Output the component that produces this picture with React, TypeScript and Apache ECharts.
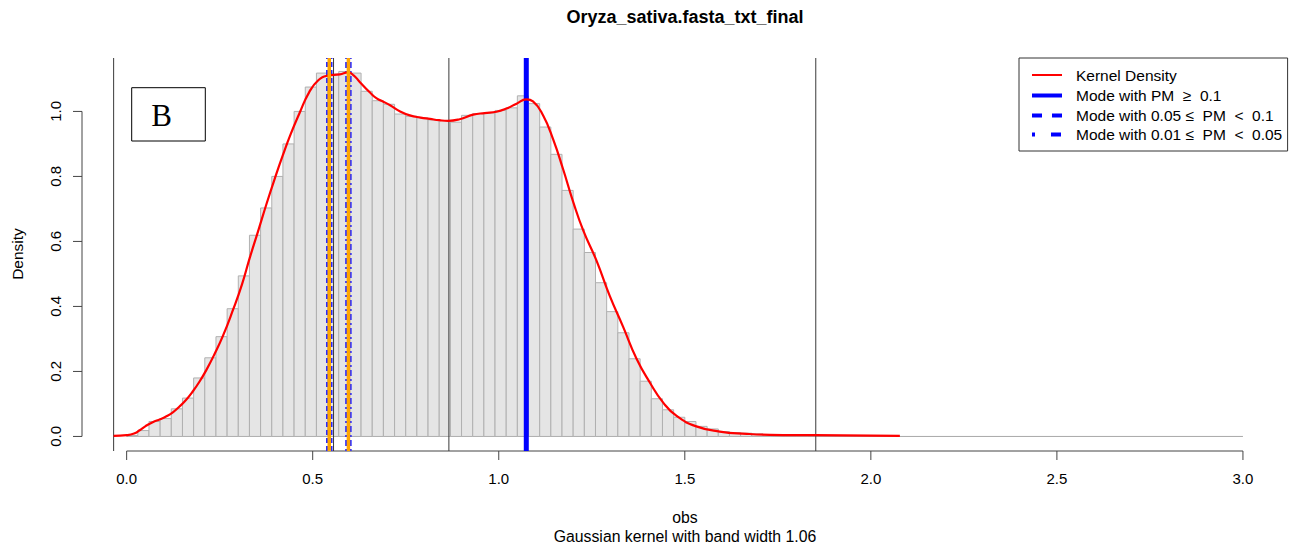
import React, { useEffect, useRef } from "react";
import * as echarts from "echarts";

// ---- data ----
const binWidth = 0.03;
const binLefts = [
  0.0, 0.03, 0.06, 0.09, 0.12, 0.15, 0.18, 0.21, 0.24, 0.27, 0.3, 0.33, 0.36, 0.39, 0.42, 0.45, 0.48, 0.51,
  0.54, 0.57, 0.6, 0.63, 0.66, 0.69, 0.72, 0.75, 0.78, 0.81, 0.84, 0.87, 0.9, 0.93, 0.96, 0.99, 1.02, 1.05,
  1.08, 1.11, 1.14, 1.17, 1.2, 1.23, 1.26, 1.29, 1.32, 1.35, 1.38, 1.41, 1.44, 1.47, 1.5, 1.53, 1.56, 1.59,
  1.62, 1.65, 1.68, 1.71, 1.74, 1.77, 1.8,
];
const binDensity = [
  0.003, 0.018, 0.046, 0.055, 0.085, 0.118, 0.18, 0.242, 0.307, 0.393, 0.494, 0.619, 0.703, 0.8, 0.9, 1.0,
  1.075, 1.118, 1.115, 1.123, 1.118, 1.062, 1.033, 1.022, 0.992, 0.985, 0.98, 0.974, 0.972, 0.967, 0.988,
  0.993, 0.995, 1.003, 1.011, 1.048, 1.024, 0.952, 0.868, 0.757, 0.638, 0.566, 0.473, 0.384, 0.319, 0.239,
  0.17, 0.116, 0.082, 0.059, 0.046, 0.031, 0.023, 0.015, 0.012, 0.01, 0.008, 0.006, 0.004, 0.003, 0.002,
];
const kdeX = [
  -0.035, 0.0, 0.02, 0.035, 0.05, 0.07, 0.09, 0.107, 0.125, 0.142, 0.16, 0.178, 0.196, 0.214, 0.236, 0.259,
  0.286, 0.31, 0.331, 0.355, 0.376, 0.4, 0.42, 0.44, 0.465, 0.49, 0.515, 0.54, 0.573, 0.595, 0.61, 0.627,
  0.654, 0.672, 0.69, 0.708, 0.735, 0.761, 0.79, 0.815, 0.84, 0.864, 0.895, 0.931, 0.962, 0.994, 1.021,
  1.048, 1.074, 1.092, 1.119, 1.146, 1.173, 1.2, 1.227, 1.263, 1.298, 1.334, 1.37, 1.406, 1.442, 1.478,
  1.531, 1.594, 1.666, 1.728, 1.85, 2.078,
];
const kdeY = [
  0.002, 0.004, 0.009, 0.019, 0.031, 0.044, 0.053, 0.062, 0.075, 0.092, 0.113, 0.139, 0.169, 0.204, 0.253,
  0.31, 0.39, 0.468, 0.55, 0.638, 0.716, 0.8, 0.866, 0.928, 0.996, 1.058, 1.096, 1.11, 1.114, 1.12, 1.111,
  1.09, 1.058, 1.04, 1.03, 1.019, 1.0, 0.988, 0.981, 0.977, 0.973, 0.971, 0.976, 0.99, 0.995, 0.999, 1.009,
  1.024, 1.037, 1.031, 0.988, 0.915, 0.822, 0.722, 0.634, 0.54, 0.433, 0.338, 0.24, 0.166, 0.104, 0.063,
  0.031, 0.015, 0.008, 0.005, 0.004, 0.002,
];
const histRange = [0, 3.0];
const refLines = [-0.035, 0.556, 0.866, 1.852];
const modeX = [0.5445, 0.596, 1.074];
const modeKind = ["dashed", "dotdash", "solid"];
const markerX = [0.5445, 0.596];
const xTicks = [0, 0.5, 1.0, 1.5, 2.0, 2.5, 3.0];
const yTicks = [0, 0.2, 0.4, 0.6, 0.8, 1.0];

const title = "Oryza_sativa.fasta_txt_final";
const xName = "obs";
const subName = "Gaussian kernel with band width 1.06";
const yName = "Density";
const legendLabels = [
  "Kernel Density",
  "Mode with PM  \u2265  0.1",
  "Mode with 0.05 \u2264  PM  <  0.1",
  "Mode with 0.01 \u2264  PM  <  0.05",
];

const X_MIN = -0.12;
const X_MAX = 3.12;
const Y_MIN = -0.0448;
const Y_MAX = 1.1644;
const FONT = "'Liberation Sans', Arial, Helvetica, sans-serif";
const AXIS_COLOR = "#444";

export default function App() {
  const ref = useRef<HTMLDivElement>(null);
  useEffect(() => {
    if (!ref.current) return;
    const chart = echarts.init(ref.current, null, { renderer: "svg" });

    const bars = binLefts.map((l, i) => [l, l + binWidth, binDensity[i]]);
    const kde = kdeX.map((x, i) => [x, kdeY[i]]);

    const dashFor = (k: string) =>
      k === "dashed" ? [5, 3] : k === "dotdash" ? [2, 3, 6, 3] : "solid";

    const vline = (x: number, color: string, width: number, type: any, z: number) => ({
      type: "line",
      data: [
        [x, Y_MIN],
        [x, Y_MAX],
      ],
      symbol: "none",
      silent: true,
      clip: false,
      z,
      lineStyle: { color, width, type, cap: "butt" },
    });

    const series: any[] = [
      {
        type: "line",
        data: [
          [histRange[0], 0],
          [histRange[1], 0],
        ],
        symbol: "none",
        silent: true,
        z: 1,
        lineStyle: { color: "#a8a8a8", width: 1 },
      },
      {
        type: "custom",
        data: bars,
        silent: true,
        z: 2,
        clip: true,
        renderItem: (_p: any, api: any) => {
          const p0 = api.coord([api.value(0), 0]);
          const p1 = api.coord([api.value(1), api.value(2)]);
          return {
            type: "rect",
            shape: { x: p0[0], y: p1[1], width: p1[0] - p0[0], height: p0[1] - p1[1] },
            style: { fill: "#e5e5e5", stroke: "#b0b0b0", lineWidth: 1 },
          };
        },
      },
      // R-style axes: line over the tick range plus outward ticks
      {
        type: "custom",
        data: [0],
        silent: true,
        clip: false,
        z: 3,
        renderItem: (_p: any, api: any) => {
          const children: any[] = [];
          const a = api.coord([xTicks[0], Y_MIN]);
          const b = api.coord([xTicks[xTicks.length - 1], Y_MIN]);
          children.push({
            type: "line",
            shape: { x1: a[0], y1: a[1], x2: b[0], y2: b[1] },
            style: { stroke: AXIS_COLOR, lineWidth: 1 },
          });
          xTicks.forEach((v) => {
            const p = api.coord([v, Y_MIN]);
            children.push({
              type: "line",
              shape: { x1: p[0], y1: p[1], x2: p[0], y2: p[1] + 9 },
              style: { stroke: AXIS_COLOR, lineWidth: 1 },
            });
          });
          const c = api.coord([X_MIN, yTicks[0]]);
          const d = api.coord([X_MIN, yTicks[yTicks.length - 1]]);
          children.push({
            type: "line",
            shape: { x1: c[0], y1: c[1], x2: d[0], y2: d[1] },
            style: { stroke: AXIS_COLOR, lineWidth: 1 },
          });
          yTicks.forEach((v) => {
            const p = api.coord([X_MIN, v]);
            children.push({
              type: "line",
              shape: { x1: p[0] - 9, y1: p[1], x2: p[0], y2: p[1] },
              style: { stroke: AXIS_COLOR, lineWidth: 1 },
            });
          });
          return { type: "group", children };
        },
      },
      ...refLines.map((x) => vline(x, "#3a3a3a", 1, "solid", 4)),
      ...modeX.map((x, i) =>
        modeKind[i] === "solid"
          ? vline(x, "#0000ff", 5, "solid", 5)
          : vline(x, "#2a2aff", 6.5, dashFor(modeKind[i]), 5)
      ),
      {
        type: "line",
        data: kde,
        symbol: "none",
        silent: true,
        smooth: 0.5,
        z: 6,
        lineStyle: { color: "#ff0000", width: 2.2 },
      },
      ...markerX.map((x) => vline(x, "#ffa500", 3.5, "solid", 7)),
    ];

    const legendTop = 58;
    const legendLeft = 1019;
    const legendRight = 1287.6;
    const rowY = [75, 95.5, 115.5, 134.5];
    const legendStyles = [
      { stroke: "#ff0000", lineWidth: 2 },
      { stroke: "#0000ff", lineWidth: 4 },
      { stroke: "#0000ff", lineWidth: 4, lineDash: [10, 10] },
      { stroke: "#0000ff", lineWidth: 4, lineDash: [3, 16, 10, 10] },
    ];

    const graphic: any[] = [
      {
        type: "text",
        x: 685,
        y: 17,
        style: {
          text: title,
          font: `bold 18px ${FONT}`,
          fill: "#000",
          align: "center",
          verticalAlign: "middle",
        },
      },
      {
        type: "text",
        x: 685,
        y: 517,
        style: { text: xName, font: `15.8px ${FONT}`, fill: "#000", align: "center", verticalAlign: "middle" },
      },
      {
        type: "text",
        x: 685,
        y: 536,
        style: { text: subName, font: `15.8px ${FONT}`, fill: "#000", align: "center", verticalAlign: "middle" },
      },
      {
        type: "text",
        x: 17.5,
        y: 254,
        rotation: Math.PI / 2,
        style: { text: yName, font: `15.5px ${FONT}`, fill: "#000", align: "center", verticalAlign: "middle" },
      },
      {
        type: "rect",
        shape: { x: 131.7, y: 87.7, width: 73.6, height: 53.3 },
        style: { fill: "#fff", stroke: "#000", lineWidth: 1 },
        z: 100,
      },
      {
        type: "text",
        x: 161.7,
        y: 115,
        z: 101,
        style: {
          text: "B",
          font: `31px 'Liberation Serif', 'Times New Roman', serif`,
          fill: "#000",
          align: "center",
          verticalAlign: "middle",
        },
      },
      {
        type: "rect",
        shape: { x: legendLeft, y: legendTop, width: legendRight - legendLeft, height: 93 },
        style: { fill: "#fff", stroke: "#333", lineWidth: 1 },
        z: 100,
      },
      ...rowY.map((y, i) => ({
        type: "line",
        z: 101,
        shape: { x1: 1032, y1: y, x2: 1062, y2: y },
        style: legendStyles[i],
      })),
      ...rowY.map((y, i) => ({
        type: "text",
        z: 101,
        x: 1076,
        y,
        style: {
          text: legendLabels[i],
          font: `15.5px ${FONT}`,
          fill: "#000",
          align: "left",
          verticalAlign: "middle",
        },
      })),
    ];

    chart.setOption({
      animation: false,
      backgroundColor: "#fff",
      grid: { left: 82, right: 7.4, top: 58, bottom: 97 },
      xAxis: {
        type: "value",
        min: X_MIN,
        max: X_MAX,
        axisLine: { show: false, onZero: false },
        splitLine: { show: false },
        axisTick: { show: false },
        axisLabel: {
          customValues: xTicks,
          margin: 20,
          color: "#000",
          fontSize: 15,
          fontFamily: FONT,
          formatter: (v: number) => v.toFixed(1),
        },
      },
      yAxis: {
        type: "value",
        min: Y_MIN,
        max: Y_MAX,
        axisLine: { show: false, onZero: false },
        splitLine: { show: false },
        axisTick: { show: false },
        axisLabel: {
          customValues: yTicks,
          rotate: 90,
          margin: 19,
          color: "#000",
          fontSize: 15,
          fontFamily: FONT,
          formatter: (v: number) => v.toFixed(1),
        },
      },
      series,
      graphic,
    });
    return () => chart.dispose();
  }, []);
  return (
    <div
      ref={ref}
      style={{ position: "absolute", left: 0, top: 0, width: 1295, height: 548, background: "#fff" }}
    />
  );
}
